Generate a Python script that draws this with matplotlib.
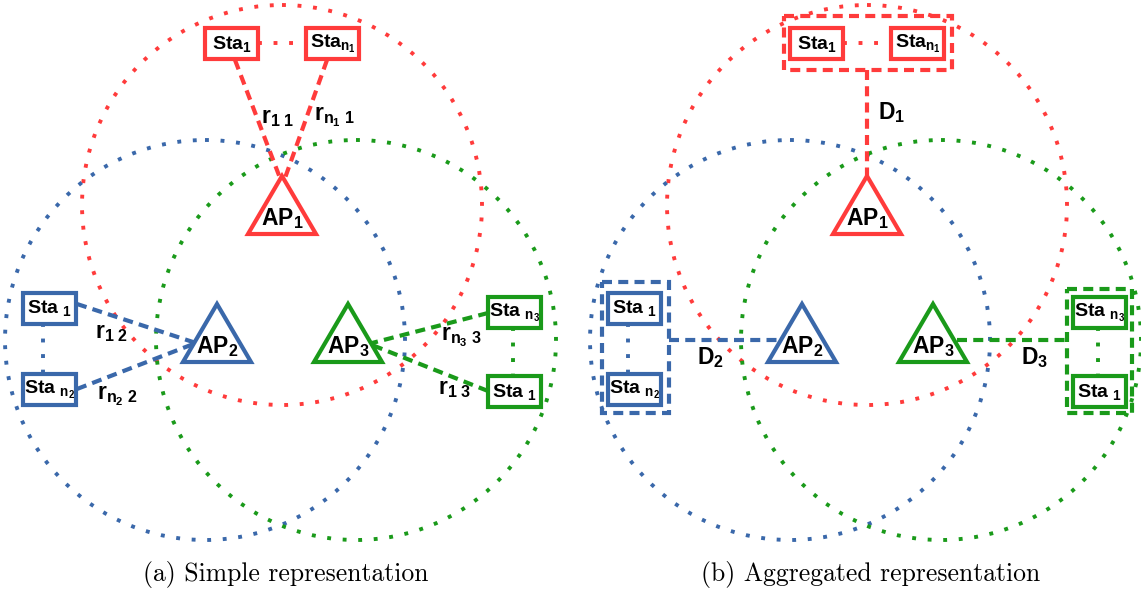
#!/usr/bin/env python3
"""
AP / station coverage diagram: simple vs aggregated representation.
"""
import matplotlib
matplotlib.use("Agg")
import matplotlib.pyplot as plt
from matplotlib.patches import Circle, Polygon, Rectangle

plt.rcParams['mathtext.fontset'] = 'custom'
plt.rcParams['mathtext.rm'] = 'Liberation Sans:bold'
plt.rcParams['mathtext.it'] = 'Liberation Sans:bold'
plt.rcParams['mathtext.bf'] = 'Liberation Sans:bold'

# --- data (pixel coordinates of the left panel, y down) ---
ap_labels = [r"AP$_1$", r"AP$_2$", r"AP$_3$"]
ap_apex_x = [282, 217, 348]
ap_apex_y = [176, 304, 304]
cover_cx = [282, 205, 356]
cover_cy = [205, 340, 340]
cover_r = [200, 200, 200]
colors = ['#ff3b3b', '#3a68aa', '#1a9a1a']

sta_labels = [[r"Sta$_1$", r"Sta$_{n_1}$"],
              [r"Sta $_1$", r"Sta $_{n_2}$"],
              [r"Sta $_{n_3}$", r"Sta $_1$"]]
sta_left = [[205, 306], [23, 23], [488, 488]]
sta_top = [[28, 28], [293, 374], [297, 376]]

# station -> AP links in the simple view: (x0, y0, x1, y1)
links = [[(235, 60, 280, 178), (327, 60, 285, 178)],
         [(77, 304, 196, 343), (77, 389, 196, 343)],
         [(488, 313, 372, 343), (488, 391, 372, 345)]]
link_labels = [[r"r$_{1\ 1}$", r"r$_{n_1\ 1}$"],
               [r"r$_{1\ 2}$", r"r$_{n_2\ 2}$"],
               [r"r$_{n_3\ 3}$", r"r$_{1\ 3}$"]]
link_label_xy = [[(278, 117), (334, 117)],
                 [(112, 332), (117, 396)],
                 [(461, 337), (455, 388)]]
# dotted connectors between the two stations of one AP
sta_dots = [(258, 43, 306, 43), (43, 323, 43, 374), (513, 327, 513, 376)]

# aggregated view (right panel)
group_box = [(199, 16, 367, 70), (17, 282, 84, 413), (482, 289, 547, 413)]
d_labels = [r"D$_1$", r"D$_2$", r"D$_3$"]
d_lines = [(282, 70, 282, 176), (84, 340, 196, 340), (372, 340, 482, 340)]
d_label_xy = [(307, 113), (125, 358), (450, 358)]

captions = ["(a) Simple representation", "(b) Aggregated representation"]
caption_x = [286, 871]
panel_dx = [0, 585]

TRI_W, TRI_H = 68, 58
BOX_W, BOX_H = 53, 31
dotted = (0, (1, 3))
dashed = (0, (2.4, 1.5))


def draw_common(ax, dx):
    for i in range(3):
        c = colors[i]
        ax.add_patch(Circle((cover_cx[i] + dx, cover_cy[i]), cover_r[i], fill=False,
                            ec=c, lw=2.8, ls=dotted, capstyle='butt', zorder=1))
    for i in range(3):
        c = colors[i]
        x0, y0 = ap_apex_x[i] + dx, ap_apex_y[i]
        tri = Polygon([(x0, y0), (x0 - TRI_W / 2, y0 + TRI_H), (x0 + TRI_W / 2, y0 + TRI_H)],
                      closed=True, fc='white', ec=c, lw=3, joinstyle='miter', zorder=3)
        ax.add_patch(tri)
        ax.text(x0, y0 + 43, ap_labels[i], ha='center', va='center', fontsize=16.5,
                family='Liberation Sans', weight='bold', zorder=6)
        for lab, l, t in zip(sta_labels[i], sta_left[i], sta_top[i]):
            ax.add_patch(Rectangle((l + dx, t), BOX_W, BOX_H, fc='white', ec=c, lw=3, zorder=4))
            ax.text(l + dx + BOX_W / 2, t + BOX_H / 2, lab, ha='center', va='center',
                    fontsize=14, family='Liberation Sans', weight='bold', zorder=5)
        x1, y1, x2, y2 = sta_dots[i]
        ax.plot([x1 + dx, x2 + dx], [y1, y2], color=c, lw=2.8, ls=dotted,
                solid_capstyle='butt', dash_capstyle='butt', zorder=2)


fig = plt.figure(figsize=(11.41, 5.93), dpi=100)
ax = fig.add_axes([0, 0, 1, 1])
ax.set_xlim(0, 1141)
ax.set_ylim(593, 0)
ax.axis('off')

# (a) simple
draw_common(ax, panel_dx[0])
for i in range(3):
    for (x0, y0, x1, y1), lab, (tx, ty) in zip(links[i], link_labels[i], link_label_xy[i]):
        ax.plot([x0, x1], [y0, y1], color=colors[i], lw=3, ls=dashed,
                dash_capstyle='butt', zorder=5)
        ax.text(tx, ty, lab, ha='center', va='center', fontsize=16.5,
                family='Liberation Sans', weight='bold', zorder=6)

# (b) aggregated
dx = panel_dx[1]
draw_common(ax, dx)
for i in range(3):
    x0, y0, x1, y1 = group_box[i]
    ax.add_patch(Rectangle((x0 + dx, y0), x1 - x0, y1 - y0, fill=False, ec=colors[i],
                           lw=3, ls=dashed, capstyle='butt', zorder=5))
    x0, y0, x1, y1 = d_lines[i]
    ax.plot([x0 + dx, x1 + dx], [y0, y1], color=colors[i], lw=3, ls=dashed,
            dash_capstyle='butt', zorder=5)
    tx, ty = d_label_xy[i]
    ax.text(tx + dx, ty, d_labels[i], ha='center', va='center', fontsize=16.5,
            family='Liberation Sans', weight='bold', zorder=6)

for cap, cx in zip(captions, caption_x):
    ax.text(cx, 574, cap, ha='center', va='center', fontsize=18.5, family='cmr10')

fig.savefig('out.png', dpi=100)
